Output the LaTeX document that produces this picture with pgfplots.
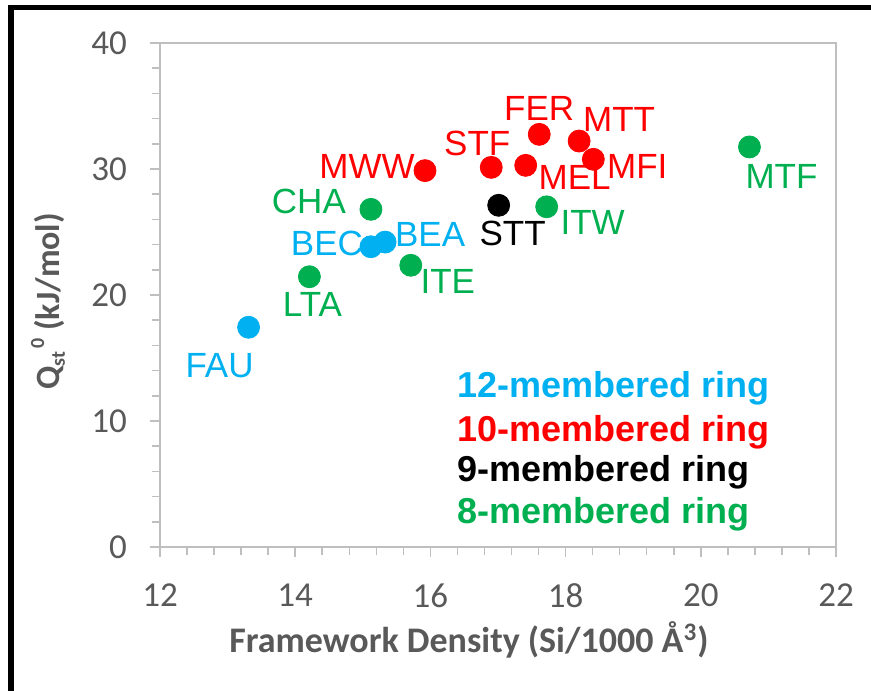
\documentclass[border=0pt]{standalone}
\usepackage{fontspec}
\setmainfont{Liberation Sans}
\newfontfamily\calibri{Carlito}
\usepackage{pgfplots}
\pgfplotsset{compat=1.18}
\usepackage{pgfplotstable}
\definecolor{cblue}{HTML}{00B0F0}
\definecolor{cred}{HTML}{FF0000}
\definecolor{cgreen}{HTML}{00B050}
\definecolor{tgray}{HTML}{595959}
\definecolor{agray}{HTML}{BFBFBF}

% x y label dx dy (label offsets in pt)
\pgfplotstableread{
x y label dx dy
13.31 17.44 FAU -14.5 -19
15.12 23.83 BEC -22 1.5
15.33 24.20 BEA 22.5 4
}\twelve
\pgfplotstableread{
x y label dx dy
15.92 29.87 MWW -29 2
16.90 30.13 STF -7 12
17.41 30.29 MEL 24.5 -6
17.61 32.75 FER 0 13
18.20 32.22 MTT 20 11
18.41 30.77 MFI 22 -3.5
}\ten
\pgfplotstableread{
x y label dx dy
17.01 27.12 STT 7 -14
}\nine
\pgfplotstableread{
x y label dx dy
14.21 21.45 LTA 1.5 -14
15.12 26.80 CHA -31 4
15.71 22.36 ITE 18.5 -8
17.72 27.00 ITW 23 -8
20.72 31.75 MTF 16 -15
}\eight

\pgfplotsset{
  grp/.style={only marks, mark=*, mark size=5.5pt, color=#1,
    nodes near coords, point meta=explicit symbolic,
    visualization depends on={\thisrow{dx}\as\dx},
    visualization depends on={\thisrow{dy}\as\dy},
    nodes near coords style={anchor=center, inner sep=0pt, xshift=\dx pt, yshift=\dy pt,
      font=\fontsize{17.5}{19}\selectfont, text=#1}},
}

\begin{document}
\begin{tikzpicture}
\begin{axis}[
  name=ax,
  width=338pt, height=252pt, scale only axis,
  xmin=12, xmax=22, ymin=0, ymax=40,
  xtick={12,14,...,22}, ytick={0,10,...,40},
  minor x tick num=4, minor y tick num=4,
  tick align=outside, tick pos=left,
  major tick length=5pt, minor tick length=4pt,
  axis line style={agray, line width=0.75pt},
  tick style={agray, line width=0.75pt},
  major tick style={agray, line width=0.75pt},
  minor tick style={agray, line width=0.75pt},
  tick label style={font=\calibri\fontsize{17.5}{19}\selectfont, text=tgray},
  x tick label style={yshift=-10pt},
  y tick label style={xshift=-8pt},
  /pgf/number format/assume math mode=true,
  clip=false,
  xlabel={Framework Density (Si/1000 Å\textsuperscript{3})},
  ylabel={Q\raisebox{-0.35ex}{\fontsize{10}{10}\selectfont st}\raisebox{0.9ex}{\fontsize{10}{10}\selectfont\,0} (kJ/mol)},
  xlabel style={at={(rel axis cs:0.457,-0.2103)}, anchor=base,
    font=\calibri\bfseries\fontsize{18}{20}\selectfont, text=tgray},
  ylabel style={at={(rel axis cs:-0.1657,0.487)}, anchor=center, rotate=0,
    font=\calibri\bfseries\fontsize{17}{19}\selectfont, text=tgray},
]
\addplot[grp=cblue] table[x=x, y=y, meta=label]{\twelve};
\addplot[grp=cred] table[x=x, y=y, meta=label]{\ten};
\addplot[grp=black] table[x=x, y=y, meta=label]{\nine};
\addplot[grp=cgreen] table[x=x, y=y, meta=label]{\eight};

\node[anchor=base west, inner sep=0pt, font=\bfseries\fontsize{18}{20}\selectfont, text=cblue] at (axis cs:16.39,11.83) {12-membered ring};
\node[anchor=base west, inner sep=0pt, font=\bfseries\fontsize{18}{20}\selectfont, text=cred] at (axis cs:16.39,8.36) {10-membered ring};
\node[anchor=base west, inner sep=0pt, font=\bfseries\fontsize{18}{20}\selectfont, text=black] at (axis cs:16.39,5.18) {9-membered ring};
\node[anchor=base west, inner sep=0pt, font=\bfseries\fontsize{18}{20}\selectfont, text=cgreen] at (axis cs:16.39,1.90) {8-membered ring};
\end{axis}
\pgfresetboundingbox
\path[use as bounding box] ([shift={(-80pt,-71.5pt)}]ax.south west) rectangle ([shift={(17.5pt,21.5pt)}]ax.north east);
\draw[black, line width=2.75pt] ([shift={(-74.5pt,-80pt)}]ax.south west) -- ([shift={(-74.5pt,17.75pt)}]ax.north west) -- ([shift={(30pt,17.75pt)}]ax.north east);
\end{tikzpicture}
\end{document}
